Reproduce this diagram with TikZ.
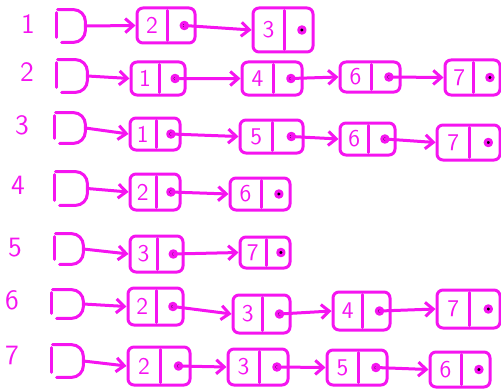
\documentclass[tikz,border=0pt]{standalone}
\usetikzlibrary{arrows.meta,fit,calc}
\definecolor{ink}{RGB}{245,20,240}
\tikzset{
  ink/.style={draw=ink, line width=1.5pt, line cap=round, line join=round},
  cell/.style={ink, rectangle, rounded corners=3pt, inner sep=0pt},
  headbox/.style={inner sep=0pt},
  digit/.style={text=ink, font=\fontsize{12}{14}\selectfont\sffamily, inner sep=0pt},
  lab/.style={text=ink, font=\fontsize{14}{16}\selectfont\sffamily, inner sep=0pt},
  link/.style={ink, -{Straight Barb[length=4pt,width=7pt]}},
}
% cell: name, x0, y0, x1, y1, digit
\newcommand\listcell[6]{%
  \coordinate (#1tl) at (#2,#3);
  \coordinate (#1br) at (#4,#5);
  \node[cell, fit=(#1tl)(#1br)] (#1) {};
  \node[digit] (#1t) at ($(#1.west)!0.27!(#1.east)$) {#6};
  \draw[ink] ($(#1.north west)!0.52!(#1.north east)+(0,4)$) -- ($(#1.south west)!0.52!(#1.south east)+(0,-4)$);
  \coordinate (#1d) at ($(#1.west)!0.8!(#1.east)$);
  \fill[ink] (#1d) circle (1.6pt);
}
% head: name, x0, y0, x1, y1
\newcommand\headcell[5]{%
  \coordinate (#1tl) at (#2,#3);
  \coordinate (#1br) at (#4,#5);
  \node[headbox, fit=(#1tl)(#1br)] (#1) {};
  \draw[ink, rounded corners=6pt] ($(#1.north west)+(1,0)$) -- (#1.north east) -- (#1.south east) -- ($(#1.south west)+(5,0)$);
  \draw[ink] ($(#1.north west)+(0,3)$) -- ($(#1.south west)+(0,-5)$);
}
\begin{document}
\begin{tikzpicture}[x=0.5pt, y=-0.5pt]
\useasboundingbox (0,0) rectangle (501,390);
% labels
\node[lab] (l1) at (28,24) {1};
\node[lab] (l2) at (27,72) {2};
\node[lab] (l3) at (22,125) {3};
\node[lab] (l4) at (18,185) {4};
\node[lab] (l5) at (15,248) {5};
\node[lab] (l6) at (12,300) {6};
\node[lab] (l7) at (12,355) {7};
% row 1
\headcell{h1}{57}{10}{85}{42}
\listcell{a1}{137}{8}{195}{43}{2}
\listcell{a2}{253}{8}{313}{52}{3}
\draw[link] (h1.east) -- (a1.west);
\draw[link] (a1d) -- (a2.west);
% row 2
\headcell{h2}{57}{60}{87}{92}
\listcell{b1}{131}{62}{185}{95}{1}
\listcell{b2}{242}{62}{302}{95}{4}
\listcell{b3}{340}{62}{400}{92}{6}
\listcell{b4}{445}{60}{500}{95}{7}
\draw[link] (h2.east) -- (b1.west);
\draw[link] (b1d) -- (b2.west);
\draw[link] (b2d) -- (b3.west);
\draw[link] (b3d) -- (b4.west);
% row 3
\headcell{h3}{55}{113}{85}{143}
\listcell{c1}{130}{118}{180}{150}{1}
\listcell{c2}{240}{120}{303}{153}{5}
\listcell{c3}{340}{123}{395}{155}{6}
\listcell{c4}{437}{125}{500}{160}{7}
\draw[link] (h3.east) -- (c1.west);
\draw[link] (c1d) -- (c2.west);
\draw[link] (c2d) -- (c3.west);
\draw[link] (c3d) -- (c4.west);
% row 4
\headcell{h4}{55}{172}{87}{205}
\listcell{d1}{130}{174}{180}{210}{2}
\listcell{d2}{230}{178}{290}{210}{6}
\draw[link] (h4.east) -- (d1.west);
\draw[link] (d1d) -- (d2.west);
% row 5
\headcell{h5}{55}{234}{83}{264}
\listcell{e1}{130}{236}{183}{272}{3}
\listcell{e2}{240}{237}{290}{268}{7}
\draw[link] (h5.east) -- (e1.west);
\draw[link] (e1d) -- (e2.west);
% row 6
\headcell{h6}{52}{290}{83}{318}
\listcell{f1}{128}{288}{183}{325}{2}
\listcell{f2}{233}{295}{290}{333}{3}
\listcell{f3}{333}{292}{390}{330}{4}
\listcell{f4}{437}{290}{500}{328}{7}
\draw[link] (h6.east) -- (f1.west);
\draw[link] (f1d) -- (f2.west);
\draw[link] (f2d) -- (f3.west);
\draw[link] (f3d) -- (f4.west);
% row 7
\headcell{h7}{52}{345}{83}{377}
\listcell{g1}{128}{347}{190}{385}{2}
\listcell{g2}{228}{349}{288}{385}{3}
\listcell{g3}{327}{350}{387}{385}{5}
\listcell{g4}{430}{352}{490}{387}{6}
\draw[link] (h7.east) -- (g1.west);
\draw[link] (g1d) -- (g2.west);
\draw[link] (g2d) -- (g3.west);
\draw[link] (g3d) -- (g4.west);
\end{tikzpicture}
\end{document}
